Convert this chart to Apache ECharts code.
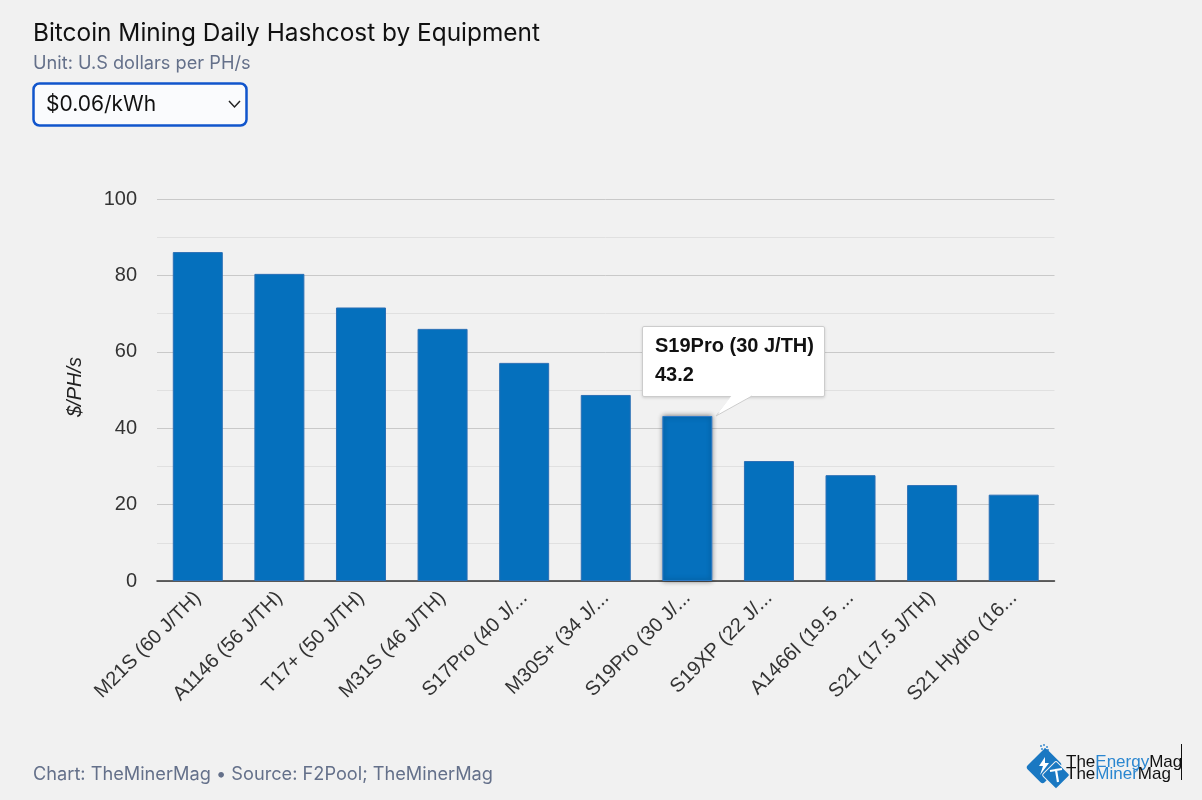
<!DOCTYPE html>
<html><head><meta charset="utf-8">
<style>html,body{margin:0;padding:0;background:#f1f1f1}#c{width:1202px;height:800px}</style>
<script src="https://cdn.jsdelivr.net/npm/echarts@6/dist/echarts.min.js"></script>
</head><body><div id="c"></div>
<script>
const categories=["M21S (60 J/TH)","A1146 (56 J/TH)","T17+ (50 J/TH)","M31S (46 J/TH)","S17Pro (40 J/TH)","M30S+ (34 J/TH)","S19Pro (30 J/TH)","S19XP (22 J/TH)","A1466I (19.5 J/TH)","S21 (17.5 J/TH)","S21 Hydro (16 J/TH)"];
const hashcost=[86.1,80.4,71.6,66,57.1,48.7,43.2,31.4,27.7,25.1,22.6];
const titleText="Bitcoin Mining Daily Hashcost by Equipment";
const subtitleText="Unit: U.S dollars per PH/s";
const selectText="$0.06/kWh";
const footerText="Chart: TheMinerMag • Source: F2Pool; TheMinerMag";
const yAxisName="$/PH/s";
const activeIndex=6;
const ui="Inter, sans-serif", ar="'Liberation Sans', Arial, sans-serif";
const chart=echarts.init(document.getElementById('c'),null,{renderer:'canvas'});
const logoRich={a:{font:"17px 'Liberation Sans',sans-serif",fill:'#111'},b:{font:"17px 'Liberation Sans',sans-serif",fill:'#2a86d0'}};
const bytes=[[1040,745],[1043,744],[1046,746],[1041,748],[1044,748],[1047,749],[1043,751],[1046,752]];
chart.setOption({
 animation:false,
 backgroundColor:'#f1f1f1',
 title:[
  {text:titleText,left:33,top:22,padding:0,textStyle:{fontFamily:ui,fontSize:24.4,fontWeight:400,color:'#111'}},
  {text:subtitleText,left:33,top:55,padding:0,textStyle:{fontFamily:ui,fontSize:18.2,fontWeight:400,color:'#64708a'}},
  {text:footerText,left:33,top:766,padding:0,textStyle:{fontFamily:ui,fontSize:18.2,fontWeight:400,color:'#64708a'}}
 ],
 grid:{left:157,right:147.5,top:199,bottom:219},
 xAxis:{type:'category',data:categories,
  axisLine:{lineStyle:{color:'#333',width:1.5}},axisTick:{show:false},
  axisLabel:{interval:0,rotate:45,fontFamily:ar,fontSize:20,color:'#333',margin:14,width:147,overflow:'truncate'}},
 yAxis:{type:'value',min:0,max:100,interval:20,
  name:yAxisName,nameLocation:'middle',nameGap:72,
  nameTextStyle:{fontFamily:ar,fontSize:20,fontStyle:'italic',color:'#222',padding:[0,0,0,6]},
  axisLine:{show:false},axisTick:{show:false},
  axisLabel:{fontFamily:ar,fontSize:20,color:'#333',margin:20},
  splitLine:{lineStyle:{color:'#c9c9c9',width:1}},
  minorTick:{show:false,splitNumber:2},
  minorSplitLine:{show:true,lineStyle:{color:'#e0e0e0',width:1}}},
 tooltip:{trigger:'item',alwaysShowContent:true,transitionDuration:0,
  backgroundColor:'transparent',borderWidth:0,padding:0,
  extraCssText:'box-shadow:none;',
  position:function(){const q=chart.convertToPixel({xAxisIndex:0,yAxisIndex:0},[activeIndex,hashcost[activeIndex]]);return [q[0]-45,q[1]-90];},
  formatter:function(p){return '<div style="position:relative;width:183px;height:71px;box-sizing:border-box;background:#fff;border:1px solid #ccc;border-radius:2px;box-shadow:0 1px 3px rgba(0,0,0,.15);padding:4px 12px;font:bold 20px/29px \'Liberation Sans\',Arial,sans-serif;color:#111">'+p.name+'<br>'+p.value+'<svg width="183" height="92" style="position:absolute;left:-1px;top:-1px;overflow:visible"><path d="M90 70L74 90L110 70" fill="#fff" stroke="#ccc" stroke-width="1"/><path d="M90 69L76 87L108 69Z" fill="#fff"/></svg></div>';}
 },
 series:[{type:'bar',data:hashcost,barWidth:50,
  itemStyle:{color:'#0570bd',borderColor:'#2a6fb5',borderWidth:1},
  emphasis:{itemStyle:{color:'#0570bd',shadowBlur:5,shadowColor:'rgba(0,0,0,.45)'}}}],
 graphic:[
  {type:'rect',shape:{x:33.5,y:83.5,width:213,height:42,r:6},style:{fill:'#fafbfd',stroke:'#1155cc',lineWidth:2.5},silent:true},
  {type:'text',style:{x:46,y:105,text:selectText,font:"21px Inter, sans-serif",fill:'#111',textVerticalAlign:'middle'},silent:true},
  {type:'polyline',shape:{points:[[229,101],[234.5,107],[240,101]]},style:{stroke:'#222',lineWidth:1.5,fill:null},silent:true},
  ...bytes.map(b=>({type:'rect',shape:{x:b[0],y:b[1],width:2,height:2},style:{fill:'#6aa6d8'},silent:true})),
  {type:'rect',x:1044,y:766,rotation:-Math.PI/4,shape:{x:-12,y:-14,width:24,height:28,r:3},style:{fill:'#1a78c2'},silent:true},
  {type:'rect',x:1056,y:775,rotation:-Math.PI/4,shape:{x:-10,y:-10,width:20,height:20,r:2},style:{fill:'#1a78c2',stroke:'#f1f1f1',lineWidth:1},silent:true},
  {type:'polygon',shape:{points:[[1045,757],[1039,766],[1043,766],[1040,775],[1049,763],[1045,763]]},style:{fill:'#fff'},silent:true},
  {type:'polyline',shape:{points:[[1050,771],[1062,769],[1056,770],[1058,782]]},style:{stroke:'#fff',lineWidth:2.2,fill:null},silent:true},
  {type:'text',style:{x:1066,y:762,rich:logoRich,text:'{a|The}{b|Energy}{a|Mag}',textVerticalAlign:'middle'},silent:true},
  {type:'text',style:{x:1066,y:774,rich:logoRich,text:'{a|The}{b|Miner}{a|Mag}',textVerticalAlign:'middle'},silent:true},
  {type:'line',shape:{x1:1181.5,y1:744,x2:1181.5,y2:780},style:{stroke:'#111',lineWidth:1},silent:true}
 ]
});
chart.dispatchAction({type:'highlight',seriesIndex:0,dataIndex:activeIndex});
chart.dispatchAction({type:'showTip',seriesIndex:0,dataIndex:activeIndex});
</script></body></html>
